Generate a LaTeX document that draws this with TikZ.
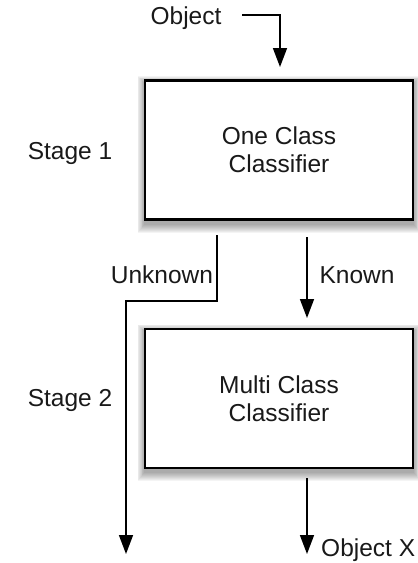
\documentclass[tikz,border=0pt]{standalone}
\usepackage{fontspec}
\setmainfont{Liberation Sans}
\usetikzlibrary{arrows.meta,backgrounds}
\begin{document}
\begin{tikzpicture}[x=1pt,y=-1pt,
  every node/.style={font=\fontsize{24.5}{28}\selectfont, text=black!90},
  classbox/.style={draw=black, line width=2.2pt, fill=white, minimum width=268pt, minimum height=139pt, align=center},
  conn/.style={line width=1.6pt, -{Triangle[length=19pt,width=14pt]}},
  shadowlayer/.style={fill=black, opacity=0.045},
  lbl/.style={inner sep=0pt}]
\useasboundingbox (0,0) rectangle (418,563);
\node[classbox] (occ) at (279,150) {One Class\\Classifier};
\node[classbox] (mcc) at (279,398.5) {Multi Class\\Classifier};
\begin{scope}[on background layer]
\foreach \b in {occ,mcc}{
  \foreach \s in {0,...,8}{
    \fill[shadowlayer] ([xshift={-0.8*\s pt},yshift={-3pt+0.8*\s pt}]\b.north west)
      rectangle ([xshift={0.8*\s pt},yshift={-4pt-1.0*\s pt}]\b.south east);
  }
}
\end{scope}
\node[lbl] (obj) at (186,18) {Object};
\node[lbl] (s1) at (70,153) {Stage 1};
\node[lbl] (s2) at (70,400) {Stage 2};
\node[lbl] (unk) at (162,275) {Unknown};
\node[lbl] (kn) at (357,275) {Known};
\node[lbl,anchor=west] (ox) at (321,550) {Object X};
\coordinate (objs) at (242,15);
\coordinate (objc) at (280,15);
\coordinate (objt) at (280,67);
\coordinate (u0) at (217,235);
\coordinate (u1) at (217,301);
\coordinate (u2) at (126,301);
\coordinate (ut) at (126,554);
\coordinate (k0) at (307,237);
\coordinate (kt) at (307,318);
\coordinate (x0) at (307,478);
\coordinate (xt) at (307,554);
\draw[conn] (objs) -- (objc) -- (objt);
\draw[conn] (u0) -- (u1) -- (u2) -- (ut);
\draw[conn] (k0) -- (kt);
\draw[conn] (x0) -- (xt);
\end{tikzpicture}
\end{document}
